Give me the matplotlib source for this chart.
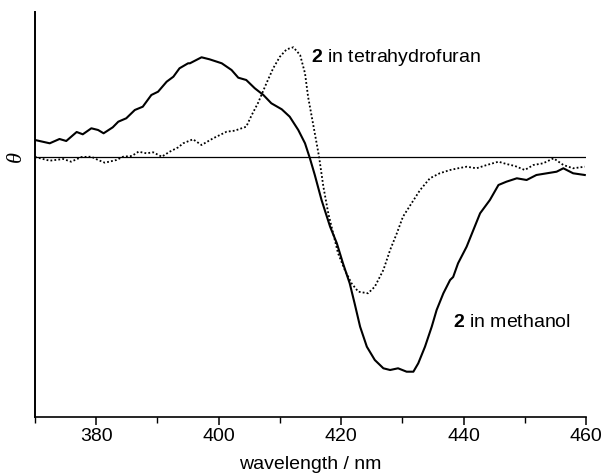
import matplotlib.pyplot as plt
from matplotlib.ticker import MultipleLocator

plt.rcParams['font.family'] = ['Liberation Sans', 'DejaVu Sans']
plt.rcParams['mathtext.fontset'] = 'custom'
plt.rcParams['mathtext.rm'] = 'Liberation Sans'
plt.rcParams['mathtext.bf'] = 'Liberation Sans:bold'

# CD spectrum of compound 2 in methanol (solid)
wl_meoh = [370.0, 372.4, 374.0, 375.1, 376.8, 377.8, 379.2, 380.3, 381.2, 382.7,
           383.6, 384.9, 386.3, 387.6, 389.0, 390.1, 391.5, 392.6, 393.6, 395.0,
           395.3, 397.2, 398.5, 400.5, 402.1, 403.2, 404.5, 405.9, 407.3, 408.6,
           410.3, 411.6, 413.0, 414.1, 414.9, 415.7, 416.8, 418.2, 419.3, 420.3,
           421.4, 422.2, 423.1, 424.2, 425.5, 426.9, 428.0, 429.3, 430.7, 431.8,
           432.6, 433.7, 434.8, 435.6, 436.7, 437.8, 438.3, 439.1, 440.5, 442.7,
           444.3, 445.7, 447.0, 448.7, 450.3, 451.9, 453.6, 455.2, 456.3, 457.9,
           459.8]
cd_meoh = [1.70, 1.37, 1.80, 1.60, 2.50, 2.27, 2.87, 2.70, 2.37, 2.97,
           3.53, 3.87, 4.70, 5.03, 6.20, 6.53, 7.53, 8.03, 8.87, 9.37,
           9.37, 9.97, 9.77, 9.37, 8.70, 7.93, 7.70, 6.87, 6.20, 5.37,
           4.77, 4.03, 2.70, 1.37, -0.13, -1.80, -4.30, -6.97, -8.63, -10.63,
           -12.63, -14.63, -16.97, -18.97, -20.30, -21.13, -21.30, -21.13, -21.47, -21.47,
           -20.63, -18.97, -16.97, -15.30, -13.63, -12.30, -12.00, -10.63, -8.97, -5.63,
           -4.30, -2.80, -2.47, -2.13, -2.30, -1.80, -1.63, -1.47, -1.13, -1.63,
           -1.80]

# CD spectrum of compound 2 in tetrahydrofuran (dotted)
wl_thf = [370.0, 372.4, 374.6, 375.9, 377.6, 379.2, 380.3, 381.4, 383.3, 384.4,
          385.8, 386.9, 388.2, 389.3, 390.7, 392.0, 393.4, 394.2, 395.8, 397.2,
          399.1, 401.3, 402.6, 404.5, 405.4, 406.4, 407.8, 408.9, 410.0, 411.1,
          412.2, 413.3, 414.1, 414.6, 415.4, 416.1, 416.4, 417.1, 417.9, 418.7,
          419.5, 420.6, 421.7, 422.8, 424.4, 425.5, 426.9, 428.0, 429.1, 430.1,
          431.5, 432.9, 434.5, 436.1, 437.8, 439.1, 440.5, 442.1, 443.8, 445.7,
          447.0, 448.4, 450.0, 451.4, 453.0, 454.7, 456.3, 457.9, 459.8]
cd_thf = [0.00, -0.37, -0.20, -0.47, 0.00, 0.03, -0.30, -0.57, -0.30, 0.03,
          0.10, 0.53, 0.37, 0.47, 0.03, 0.53, 0.97, 1.37, 1.77, 1.20,
          1.87, 2.53, 2.63, 3.03, 4.20, 5.37, 7.37, 8.87, 10.03, 10.77,
          10.97, 10.20, 8.37, 6.03, 3.37, 1.03, 0.00, -2.97, -5.63, -7.63,
          -9.63, -11.30, -12.63, -13.47, -13.63, -12.97, -11.30, -9.30, -7.63, -5.97,
          -4.63, -3.30, -2.13, -1.63, -1.30, -1.13, -0.97, -1.13, -0.80, -0.47,
          -0.70, -0.90, -1.30, -0.80, -0.63, -0.13, -0.80, -1.13, -0.97]

fig = plt.figure(figsize=(6.05, 4.74), dpi=100)
ax = fig.add_axes([0.0579, 0.1192, 0.9107, 0.8555])

ax.axhline(0, color='black', lw=0.9, zorder=1)
ax.plot(wl_meoh, cd_meoh, color='black', lw=1.5, solid_joinstyle='round')
ax.plot(wl_thf, cd_thf, color='black', lw=1.3, linestyle=(0, (1, 1.2)))

ax.set_xlim(370, 460)
ax.set_ylim(-26.05, 14.5)

for side in ('top', 'right'):
    ax.spines[side].set_visible(False)
ax.spines['left'].set_linewidth(1.4)
ax.spines['bottom'].set_linewidth(1.2)

ax.set_xticks([380, 400, 420, 440, 460])
ax.xaxis.set_minor_locator(MultipleLocator(10))
ax.tick_params(axis='x', which='major', direction='out', length=6, width=1.1,
               labelsize=14, pad=1.5)
ax.tick_params(axis='x', which='minor', direction='out', length=4, width=1.0)
ax.set_yticks([])

ax.set_xlabel('wavelength / nm', fontsize=14, labelpad=8)

# ordinate label (ellipticity), turned on its side next to the zero line
fig.text(16 / 605, 1 - 157 / 474, 'θ', fontsize=16, family='Liberation Serif',
         style='italic', rotation=90, ha='center', va='center')

ax.text(415.05, 9.9, r'$\mathbf{2}$ in tetrahydrofuran', fontsize=14,
        va='center', ha='left')
ax.text(438.25, -16.57, r'$\mathbf{2}$ in methanol', fontsize=14,
        va='center', ha='left')

fig.savefig('out.png', dpi=100)
